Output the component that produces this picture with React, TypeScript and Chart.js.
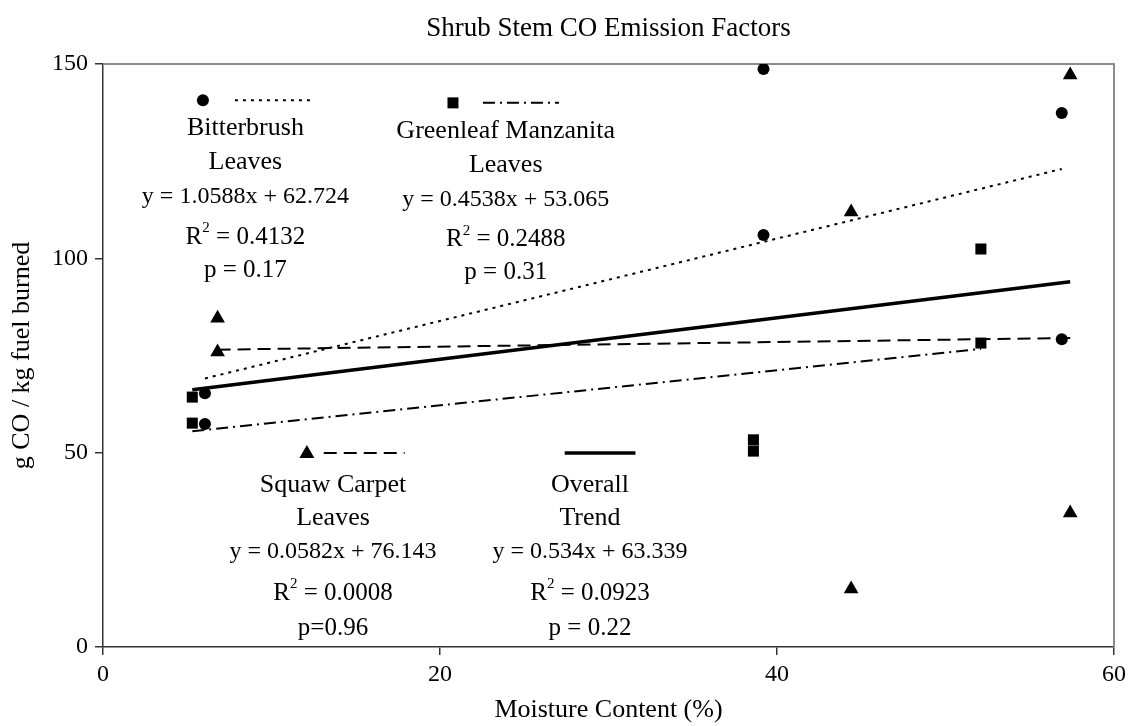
import React, { useEffect, useRef } from "react";
import { Chart, registerables } from "chart.js";

Chart.register(...registerables);

// ---------- text ----------
const chartTitle = "Shrub Stem CO Emission Factors";
const xAxisTitle = "Moisture Content (%)";
const yAxisTitle = "g CO / kg fuel burned";
const xTickValues = [0, 20, 40, 60];
const yTickValues = [0, 50, 100, 150];

// ---------- data ----------
const bitterbrushX = [6.05, 6.05, 39.2, 39.2, 56.9, 56.9];
const bitterbrushY = [65.3, 57.4, 148.7, 106.0, 137.4, 79.2];
const greenleafX = [5.3, 5.3, 38.6, 38.6, 52.1, 52.1];
const greenleafY = [64.3, 57.6, 53.3, 50.4, 102.4, 78.2];
const squawX = [6.8, 6.8, 44.4, 44.4, 57.4, 57.4];
const squawY = [84.6, 75.9, 111.9, 14.9, 147.2, 34.5];

// trend line end points
const bitterbrushTrendX = [6.05, 56.9];
const bitterbrushTrendY = [69.1, 123.0];
const greenleafTrendX = [5.3, 52.1];
const greenleafTrendY = [55.5, 76.7];
const squawTrendX = [6.8, 57.4];
const squawTrendY = [76.5, 79.5];
const overallTrendX = [5.3, 57.4];
const overallTrendY = [66.2, 94.0];

// ---------- annotation text ----------
const seriesNames = [
  "Bitterbrush Leaves",
  "Greenleaf Manzanita Leaves",
  "Squaw Carpet Leaves",
  "Overall Trend",
];
const nameLines = [
  ["Bitterbrush", "Leaves"],
  ["Greenleaf Manzanita", "Leaves"],
  ["Squaw Carpet", "Leaves"],
  ["Overall", "Trend"],
];
const equations = [
  "y = 1.0588x + 62.724",
  "y = 0.4538x + 53.065",
  "y = 0.0582x + 76.143",
  "y = 0.534x + 63.339",
];
const rSquared = ["0.4132", "0.2488", "0.0008", "0.0923"];
const pValues = ["p = 0.17", "p = 0.31", "p=0.96", "p = 0.22"];

// ---------- styles / layout ----------
const FONT = "'Liberation Serif', 'Times New Roman', serif";
const markerStyles = ["circle", "rect", "triangle", "none"];
const lineDashes = [[3, 5], [12, 5, 2, 5], [13, 7], []];
const lineWidths = [2, 2, 2, 3.5];
const annotationLayout = [
  { cx: 8.45, my: 140.7, mx: 5.93, l1: 7.83, l2: 12.46, offs: [28, 62, 97, 137, 170] },
  { cx: 23.9, my: 140.0, mx: 20.77, l1: 22.55, l2: 27.06, offs: [28, 62, 97, 137, 170] },
  { cx: 13.65, my: 49.9, mx: 12.1, l1: 13.1, l2: 17.9, offs: [32, 65, 99, 140, 175] },
  { cx: 28.9, my: 49.9, mx: 0, l1: 27.4, l2: 31.6, offs: [32, 65, 99, 140, 175] },
];

function pts(xs: number[], ys: number[]) {
  return xs.map((v, i) => ({ x: v, y: ys[i] }));
}

function drawMarker(ctx: CanvasRenderingContext2D, style: string, x: number, y: number) {
  ctx.beginPath();
  if (style === "circle") {
    ctx.arc(x, y, 6, 0, Math.PI * 2);
  } else if (style === "rect") {
    ctx.rect(x - 5.5, y - 5.5, 11, 11);
  } else if (style === "triangle") {
    ctx.moveTo(x, y - 8);
    ctx.lineTo(x + 7.5, y + 5);
    ctx.lineTo(x - 7.5, y + 5);
    ctx.closePath();
  } else {
    return;
  }
  ctx.fill();
}

const annotationPlugin = {
  id: "annotationPlugin",
  beforeDatasetsDraw(chart: any) {
    const { ctx, chartArea } = chart;
    ctx.save();
    ctx.strokeStyle = "#8c8c8c";
    ctx.lineWidth = 2;
    ctx.beginPath();
    ctx.moveTo(chartArea.left, chartArea.top);
    ctx.lineTo(chartArea.right, chartArea.top);
    ctx.lineTo(chartArea.right, chartArea.bottom);
    ctx.stroke();
    ctx.restore();
  },
  afterDatasetsDraw(chart: any) {
    const { ctx, chartArea } = chart;
    const xs = chart.scales.x;
    const ys = chart.scales.y;
    ctx.save();
    ctx.fillStyle = "#000";
    ctx.strokeStyle = "#000";
    ctx.textBaseline = "middle";
    ctx.textAlign = "left";

    // chart title, centred over the plot area
    ctx.font = `27px ${FONT}`;
    const tw = ctx.measureText(chartTitle).width;
    ctx.fillText(chartTitle, (chartArea.left + chartArea.right) / 2 - tw / 2, 29);

    const nameFont = `26px ${FONT}`;
    const eqFont = `24px ${FONT}`;
    const statFont = `25px ${FONT}`;
    const supFont = `15px ${FONT}`;
    const centered = (t: string, cx: number, cy: number, f: string) => {
      ctx.font = f;
      const w = ctx.measureText(t).width;
      ctx.fillText(t, cx - w / 2, cy);
    };
    annotationLayout.forEach((a, i) => {
      const cx = xs.getPixelForValue(a.cx);
      const my = ys.getPixelForValue(a.my);
      if (markerStyles[i] !== "none") drawMarker(ctx, markerStyles[i], xs.getPixelForValue(a.mx), my);
      ctx.save();
      ctx.lineWidth = lineWidths[i];
      ctx.setLineDash(lineDashes[i]);
      ctx.beginPath();
      ctx.moveTo(xs.getPixelForValue(a.l1), my);
      ctx.lineTo(xs.getPixelForValue(a.l2), my);
      ctx.stroke();
      ctx.restore();
      centered(nameLines[i][0], cx, my + a.offs[0], nameFont);
      centered(nameLines[i][1], cx, my + a.offs[1], nameFont);
      centered(equations[i], cx, my + a.offs[2], eqFont);
      // R^2 line
      ctx.font = statFont;
      const wR = ctx.measureText("R").width;
      const rest = " = " + rSquared[i];
      const wRest = ctx.measureText(rest).width;
      ctx.font = supFont;
      const wS = ctx.measureText("2").width;
      const total = wR + wS + wRest;
      const x0 = cx - total / 2;
      const ry = my + a.offs[3];
      ctx.font = statFont;
      ctx.fillText("R", x0, ry);
      ctx.font = supFont;
      ctx.fillText("2", x0 + wR, ry - 9);
      ctx.font = statFont;
      ctx.fillText(rest, x0 + wR + wS, ry);
      centered(pValues[i], cx, my + a.offs[4], statFont);
    });
    ctx.restore();
  },
};

export default function App() {
  const ref = useRef<HTMLCanvasElement | null>(null);
  useEffect(() => {
    if (!ref.current) return;
    const tickFont = { family: FONT, size: 24 };
    const titleFont = { family: FONT, size: 26 };
    const pointSet = (i: number, xs: number[], ys: number[], style: string, r: number) => ({
      label: seriesNames[i],
      data: pts(xs, ys),
      pointStyle: style,
      pointRadius: r,
      pointBackgroundColor: "#000",
      pointBorderColor: "#000",
      pointBorderWidth: 0,
      showLine: false,
    });
    const lineSet = (i: number, xs: number[], ys: number[]) => ({
      label: seriesNames[i] + " trend",
      data: pts(xs, ys),
      showLine: true,
      pointRadius: 0,
      borderColor: "#000",
      borderWidth: lineWidths[i],
      borderDash: lineDashes[i],
      fill: false,
    });
    const chart = new Chart(ref.current, {
      type: "scatter",
      data: {
        datasets: [
          lineSet(0, bitterbrushTrendX, bitterbrushTrendY),
          lineSet(1, greenleafTrendX, greenleafTrendY),
          lineSet(2, squawTrendX, squawTrendY),
          lineSet(3, overallTrendX, overallTrendY),
          pointSet(0, bitterbrushX, bitterbrushY, "circle", 6),
          pointSet(1, greenleafX, greenleafY, "rect", 7.8),
          pointSet(2, squawX, squawY, "triangle", 8.5),
        ] as any,
      },
      options: {
        animation: false,
        responsive: false,
        events: [],
        layout: { padding: { left: 0, right: 17, top: 64, bottom: 0 } },
        plugins: {
          legend: { display: false },
          tooltip: { enabled: false },
          title: { display: false },
        },
        scales: {
          x: {
            type: "linear",
            min: 0,
            max: 60,
            afterBuildTicks: (s: any) => {
              s.ticks = xTickValues.map((v) => ({ value: v }));
            },
            afterFit: (s: any) => {
              s.height = 79;
            },
            grid: { drawOnChartArea: false, drawTicks: true, tickLength: 8, color: "#333", lineWidth: 1.5 },
            border: { color: "#333", width: 1.5 },
            ticks: { color: "#000", font: tickFont, padding: 5, maxRotation: 0 },
            title: {
              display: true,
              text: xAxisTitle,
              color: "#000",
              font: titleFont,
              padding: { top: 0, bottom: 0 },
            },
          },
          y: {
            type: "linear",
            min: 0,
            max: 150,
            afterBuildTicks: (s: any) => {
              s.ticks = yTickValues.map((v) => ({ value: v }));
            },
            afterFit: (s: any) => {
              s.width = 103;
            },
            grid: { drawOnChartArea: false, drawTicks: true, tickLength: 8, color: "#333", lineWidth: 1.5 },
            border: { color: "#333", width: 1.5 },
            ticks: { color: "#000", font: tickFont, padding: 7 },
            title: {
              display: true,
              text: yAxisTitle,
              color: "#000",
              font: titleFont,
              padding: { top: 7, bottom: 0 },
            },
          },
        },
      } as any,
      plugins: [annotationPlugin],
    });
    return () => chart.destroy();
  }, []);
  return (
    <div style={{ position: "fixed", left: 0, top: 0, width: 1131, height: 726, background: "#fff" }}>
      <canvas ref={ref} width={1131} height={726} />
    </div>
  );
}
